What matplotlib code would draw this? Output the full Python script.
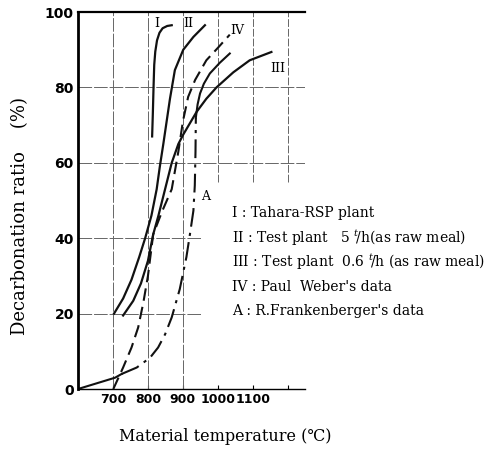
import matplotlib
matplotlib.use("Agg")
import matplotlib.pyplot as plt

plt.rcParams['mathtext.fontset'] = 'dejavuserif'

# curve data (temperature degC, decarbonation %)
t_I = [812, 814, 816, 818, 821, 826, 833, 842, 855, 868]
d_I = [67, 73, 80, 86, 89.5, 92.5, 94.5, 95.7, 96.3, 96.5]

t_II = [703, 729, 753, 775, 792, 810, 825, 834, 844, 863, 877, 901, 930, 963]
d_II = [20, 24, 29, 35, 40, 46, 53, 59, 65, 77, 84.6, 90, 93.4, 96.5]

t_III = [729, 758, 780, 800, 815, 830, 849, 868, 887, 901, 939, 967, 996, 1044, 1091, 1153]
d_III = [19.5, 23.4, 28, 34, 41, 46, 53, 60, 65, 67.5, 73.5, 77, 80, 84, 87.2, 89.4]

t_IV = [701, 729, 753, 772, 787, 800, 815, 840, 868, 887, 900, 915, 935, 967, 1000, 1034]
d_IV = [0, 5.7, 11, 16.3, 23, 30, 41, 47, 53, 63, 71, 77.5, 82, 87.2, 90.5, 94]

# A: solid start, dash-dot middle, solid top
t_A1 = [600, 706, 725]
d_A1 = [0, 3, 4]
t_A2 = [725, 768, 806, 829, 849, 868, 891, 910, 920, 930, 934, 936, 937]
d_A2 = [4, 5.7, 8.3, 11, 14.5, 19, 26.5, 35, 41, 47.3, 54, 63, 72]
t_A3 = [937, 942, 949, 960, 977, 1005, 1034]
d_A3 = [72, 75.5, 78.4, 81, 83.7, 86.5, 89]

legend_lines = [
    "I : Tahara-RSP plant",
    "II : Test plant   5 $^{t}\\!/$h(as raw meal)",
    "III : Test plant  0.6 $^{t}\\!/$h (as raw meal)",
    "IV : Paul  Weber's data",
    "A : R.Frankenberger's data",
]
legend_y = [46.7, 40.1, 33.7, 27.1, 20.7]

serif = ['DejaVu Serif']

fig = plt.figure(figsize=(4.85, 4.49), dpi=100)
ax = fig.add_axes([0.1608, 0.1336, 0.468, 0.8396])
ax.set_xlim(600, 1249)
ax.set_ylim(0, 100)

# partial grid like the printed chart
gc = '#666666'
for yv in [60, 80]:
    ax.plot([600, 1249], [yv, yv], color=gc, lw=0.7, ls=(0, (14, 2)))
for yv in [20, 40]:
    ax.plot([600, 955], [yv, yv], color=gc, lw=0.7, ls=(0, (14, 2)))
for xv in [700, 800, 900]:
    ax.plot([xv, xv], [0, 100], color=gc, lw=0.7, ls=(0, (14, 2)))
for xv in [1000, 1100, 1200]:
    ax.plot([xv, xv], [55, 100], color=gc, lw=0.7, ls=(0, (8, 2)))

# curves
lc = '#111111'
ax.plot(t_I, d_I, color=lc, lw=1.6)
ax.plot(t_II, d_II, color=lc, lw=1.6)
ax.plot(t_III, d_III, color=lc, lw=1.6)
ax.plot(t_IV, d_IV, color=lc, lw=1.5, ls=(0, (6, 3)))
ax.plot(t_A1, d_A1, color=lc, lw=1.5)
ax.plot(t_A2, d_A2, color=lc, lw=1.5, ls=(0, (9, 3, 1.5, 3)))
ax.plot(t_A3, d_A3, color=lc, lw=1.5)

# curve labels
ax.text(825, 97, "I", fontfamily=serif, fontsize=9, ha='center', va='center')
ax.text(916, 97, "II", fontfamily=serif, fontsize=9, ha='center', va='center')
ax.text(1056, 95, "IV", fontfamily=serif, fontsize=9, ha='center', va='center')
ax.text(1170, 85, "III", fontfamily=serif, fontsize=9, ha='center', va='center')
ax.text(965, 51, "A", fontfamily=serif, fontsize=9, ha='center', va='center')

# legend as plain text, runs off the right edge like the scan
for s, yv in zip(legend_lines, legend_y):
    ax.text(1040, yv, s, fontfamily=serif, fontsize=10, ha='left', va='center', clip_on=False)

# spines and ticks
ax.spines['right'].set_visible(False)
ax.spines['left'].set_linewidth(2.0)
ax.spines['top'].set_linewidth(1.6)
ax.spines['bottom'].set_linewidth(1.0)
ax.set_xticks([700, 800, 900, 1000, 1100, 1200])
ax.set_xticklabels(['700', '800', '900', '1000', '1100', ''])
ax.set_yticks([0, 20, 40, 60, 80, 100])
ax.tick_params(axis='x', direction='in', length=3, pad=3, labelsize=9)
ax.tick_params(axis='y', direction='out', length=0, pad=3, labelsize=10)
for lab in ax.get_xticklabels() + ax.get_yticklabels():
    lab.set_fontweight('bold')

fig.text(0.042, 0.52, "Decarbonation ratio    (%)", fontfamily=serif, fontsize=13,
         rotation=90, ha='center', va='center')
fig.text(0.465, 0.027, "Material temperature (\u2103)", fontfamily=serif, fontsize=11.5,
         ha='center', va='center')

plt.savefig('out.png', dpi=100)
plt.close()
